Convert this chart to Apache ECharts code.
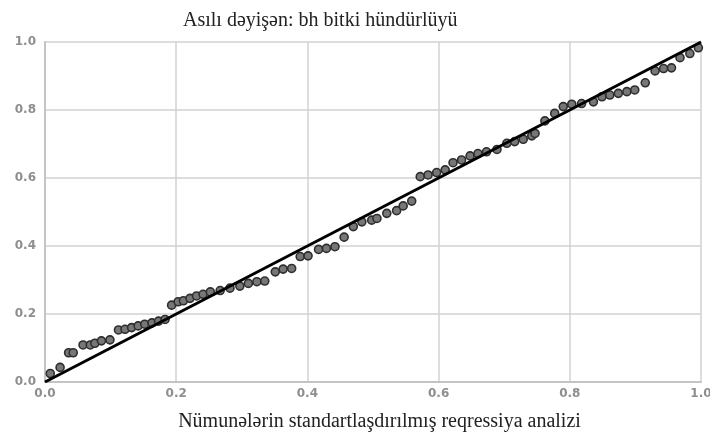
<!DOCTYPE html>
<html>
<head>
<meta charset="utf-8">
<script src="https://cdn.jsdelivr.net/npm/echarts@6/dist/echarts.min.js"></script>
<style>html,body{margin:0;padding:0;background:#fff}#c{width:710px;height:432px}</style>
</head>
<body>
<div id="c"></div>
<script>
const titleText = 'Asılı dəyişən: bh bitki hündürlüyü';
const xName = 'Nümunələrin standartlaşdırılmış reqressiya analizi';
const xTicks = [0, 0.2, 0.4, 0.6, 0.8, 1.0];
const yTicks = [0, 0.2, 0.4, 0.6, 0.8, 1.0];
const obsX = [0.008,0.023,0.036,0.043,0.058,0.069,0.076,0.086,0.099,0.112,0.122,0.132,0.142,0.152,0.163,0.173,0.183,0.193,0.203,0.211,0.221,0.231,0.241,0.252,0.267,0.282,0.297,0.310,0.323,0.335,0.351,0.363,0.376,0.389,0.401,0.417,0.429,0.442,0.456,0.470,0.483,0.498,0.506,0.521,0.536,0.546,0.559,0.572,0.584,0.597,0.610,0.622,0.635,0.648,0.660,0.673,0.689,0.704,0.716,0.729,0.742,0.747,0.762,0.777,0.790,0.803,0.818,0.836,0.849,0.861,0.874,0.887,0.899,0.915,0.930,0.943,0.955,0.968,0.983,0.996];
const obsY = [0.025,0.043,0.086,0.086,0.109,0.109,0.114,0.121,0.124,0.153,0.155,0.160,0.165,0.170,0.174,0.179,0.184,0.226,0.236,0.239,0.246,0.253,0.258,0.265,0.269,0.276,0.282,0.290,0.295,0.297,0.324,0.332,0.334,0.369,0.371,0.390,0.393,0.398,0.426,0.457,0.471,0.476,0.481,0.496,0.504,0.518,0.532,0.604,0.609,0.616,0.624,0.645,0.653,0.665,0.672,0.677,0.684,0.702,0.707,0.714,0.724,0.731,0.768,0.790,0.810,0.817,0.819,0.824,0.839,0.844,0.849,0.854,0.859,0.880,0.915,0.922,0.924,0.954,0.966,0.983];
const refLineX = [0, 1];
const refLineY = [0, 1];

const chart = echarts.init(document.getElementById('c'));
const pts = obsX.map((x, i) => [x, obsY[i]]);
const ref = refLineX.map((x, i) => [x, refLineY[i]]);
chart.setOption({
  animation: false,
  backgroundColor: '#fff',
  title: {
    text: titleText, left: 178, top: 6,
    textStyle: { fontFamily: 'Liberation Serif', fontSize: 20, fontWeight: 'normal', color: '#222' }
  },
  grid: { left: 45, right: 9, top: 42, bottom: 50, containLabel: false, outerBoundsMode: 'none' },
  xAxis: {
    type: 'value', min: 0, max: 1, interval: 0.2,
    name: xName, nameLocation: 'middle', nameGap: 30,
    nameTextStyle: { fontFamily: 'Liberation Serif', fontSize: 20, color: '#222', padding: [0, 0, 0, 13] },
    axisLine: { show: true, lineStyle: { color: '#c4c4c4', width: 2 } },
    axisTick: { show: false },
    axisLabel: { formatter: v => v.toFixed(1), fontFamily: 'DejaVu Sans', fontWeight: 'bold', fontSize: 12, color: '#8e8e8e', margin: 6 },
    splitLine: { show: true, lineStyle: { color: '#d2d2d2', width: 1.5 } }
  },
  yAxis: {
    type: 'value', min: 0, max: 1, interval: 0.2,
    axisLine: { show: true, lineStyle: { color: '#c4c4c4', width: 2 } },
    axisTick: { show: false },
    axisLabel: { formatter: v => v.toFixed(1), fontFamily: 'DejaVu Sans', fontWeight: 'bold', fontSize: 12, color: '#8e8e8e', margin: 9 },
    splitLine: { show: true, lineStyle: { color: '#d2d2d2', width: 1.5 } }
  },
  series: [
    {
      type: 'scatter', data: pts, symbol: 'circle', symbolSize: 8, z: 2,
      itemStyle: { color: '#777', borderColor: '#2e2e2e', borderWidth: 1.6, opacity: 1 }
    },
    {
      type: 'line', data: ref, symbol: 'none', z: 3,
      lineStyle: { color: '#000', width: 3 }
    }
  ]
});
</script>
</body>
</html>
